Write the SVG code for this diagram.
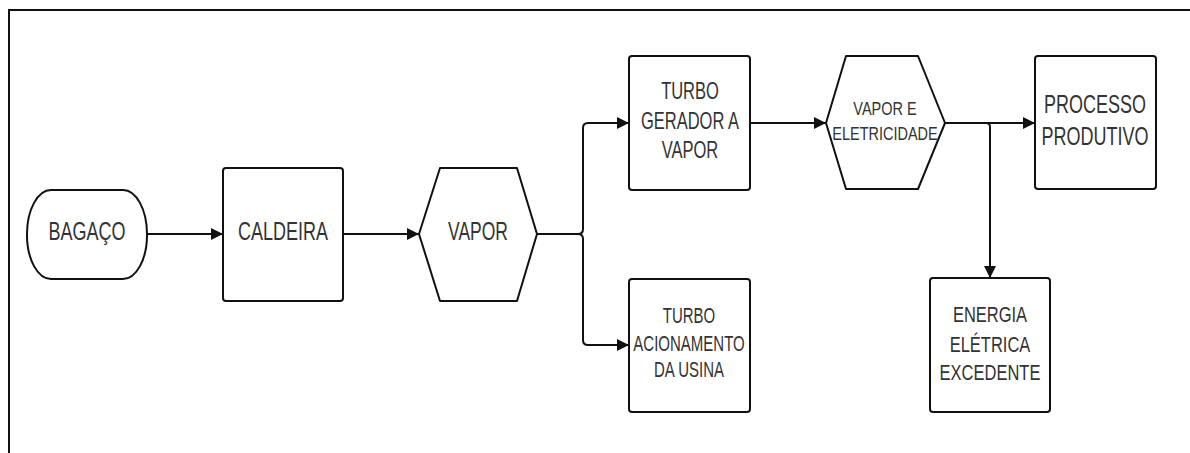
<svg xmlns="http://www.w3.org/2000/svg" width="1190" height="453" viewBox="0 0 1190 453">
<style>
.shape{fill:#fff;stroke:#111;stroke-width:2;stroke-linejoin:round}
.edge{fill:none;stroke:#111;stroke-width:2}
.t{font-family:"Liberation Sans",Arial,sans-serif;fill:#333;text-anchor:middle}
</style>
<defs>
<marker id="arr" markerUnits="userSpaceOnUse" markerWidth="13" markerHeight="12" refX="12" refY="6" orient="auto">
<path d="M0,0 L12,6 L0,12 z" fill="#111"/>
</marker>
</defs>
<rect width="1190" height="453" fill="#fff"/>
<path d="M9,453 V10 H1190" fill="none" stroke="#111" stroke-width="2"/>
<g id="connectors">
<path class="edge" d="M147,234 H223" marker-end="url(#arr)"/>
<path class="edge" d="M343,234 H419" marker-end="url(#arr)"/>
<path class="edge" d="M537,234 H578 Q583,234 583,229 V128 Q583,123 588,123 H629" marker-end="url(#arr)"/>
<path class="edge" d="M537,234 H578 Q583,234 583,239 V340 Q583,345 588,345 H629" marker-end="url(#arr)"/>
<path class="edge" d="M750,123 H826" marker-end="url(#arr)"/>
<path class="edge" d="M945,123 H1035" marker-end="url(#arr)"/>
<path class="edge" d="M986,123 Q990,123 990,127 V278" marker-end="url(#arr)"/>
</g>
<g id="bagaco">
<rect class="shape" x="27" y="190" width="120" height="89" rx="24" ry="44"/>
<text class="t" font-size="18" transform="translate(87,240) scale(1,1.42)">BAGAÇO</text>
</g>
<g id="caldeira">
<rect class="shape" x="223" y="168" width="120" height="133" rx="3"/>
<text class="t" font-size="18" transform="translate(283,240) scale(1,1.42)">CALDEIRA</text>
</g>
<g id="vapor">
<polygon class="shape" points="419,234 440,168 517,168 537,234 517,301 440,301"/>
<text class="t" font-size="17.5" transform="translate(478,240) scale(1,1.45)">VAPOR</text>
</g>
<g id="turbo-gerador">
<rect class="shape" x="629" y="56" width="121" height="134" rx="3"/>
<text class="t" font-size="16.5" transform="translate(690,99) scale(1,1.42)">TURBO</text>
<text class="t" font-size="16.5" transform="translate(690,129) scale(1,1.42)">GERADOR A</text>
<text class="t" font-size="16.5" transform="translate(690,158) scale(1,1.42)">VAPOR</text>
</g>
<g id="turbo-acionamento">
<rect class="shape" x="629" y="279" width="121" height="133" rx="3"/>
<text class="t" font-size="15" transform="translate(689,323) scale(1,1.45)">TURBO</text>
<text class="t" font-size="15" transform="translate(689,351) scale(1,1.45)">ACIONAMENTO</text>
<text class="t" font-size="15" transform="translate(689,377) scale(1,1.45)">DA USINA</text>
</g>
<g id="vapor-eletricidade">
<polygon class="shape" points="826,123 846,56 918,56 945,123 918,189 846,189"/>
<text class="t" font-size="14.5" transform="translate(885,115) scale(1,1.3)">VAPOR E</text>
<text class="t" font-size="14.5" transform="translate(885,140) scale(1,1.3)">ELETRICIDADE</text>
</g>
<g id="processo">
<rect class="shape" x="1035" y="56" width="121" height="133" rx="3"/>
<text class="t" font-size="18" transform="translate(1095,113) scale(1,1.42)">PROCESSO</text>
<text class="t" font-size="18" transform="translate(1095,145) scale(1,1.42)">PRODUTIVO</text>
</g>
<g id="energia">
<rect class="shape" x="930" y="278" width="120" height="134" rx="3"/>
<text class="t" font-size="16.5" transform="translate(990,322) scale(1,1.3)">ENERGIA</text>
<text class="t" font-size="16.5" transform="translate(990,352) scale(1,1.3)">ELÉTRICA</text>
<text class="t" font-size="16.5" transform="translate(990,380) scale(1,1.3)">EXCEDENTE</text>
</g>
</svg>
